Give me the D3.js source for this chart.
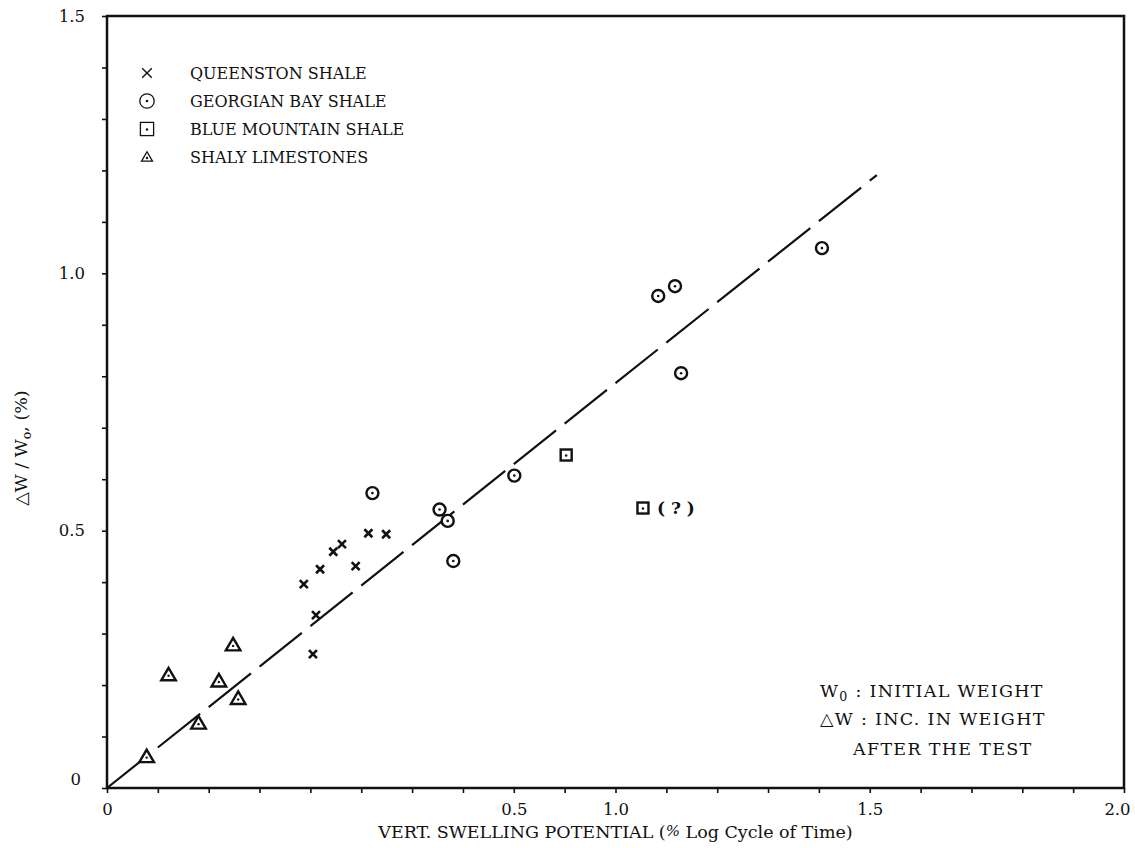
<!DOCTYPE html>
<html>
<head>
<meta charset="utf-8">
<script src="https://cdn.jsdelivr.net/npm/d3@7/dist/d3.min.js"></script>
<style>
  html, body { margin: 0; padding: 0; background: #fff; }
  svg { display: block; }
  text { font-family: "DejaVu Serif", "Liberation Serif", serif; fill: #111; }
</style>
</head>
<body>
<svg id="chart" width="1135" height="848"></svg>
<script>
// Swelling potential (x) vs. relative weight increase (y) per rock group
const queenstonX = [0.387, 0.419, 0.411, 0.405, 0.445, 0.462, 0.489, 0.514, 0.549];
const queenstonY = [0.396, 0.425, 0.336, 0.260, 0.459, 0.474, 0.431, 0.495, 0.493];

const georgianX = [0.522, 0.654, 0.670, 0.681, 0.801, 1.084, 1.117, 1.129, 1.406];
const georgianY = [0.573, 0.541, 0.519, 0.441, 0.607, 0.956, 0.975, 0.806, 1.049];

const blueMtnX = [0.903, 1.054];
const blueMtnY = [0.647, 0.544];
const blueMtnNote = ["", "( ? )"];

const limestoneX = [0.078, 0.121, 0.180, 0.220, 0.248, 0.258];
const limestoneY = [0.061, 0.220, 0.126, 0.208, 0.278, 0.174];

// Fitted trend line end points
const trendX = [0, 1.514];
const trendY = [0, 1.191];

const legendLabels = ["QUEENSTON SHALE", "GEORGIAN BAY SHALE", "BLUE MOUNTAIN SHALE", "SHALY LIMESTONES"];
const legendKinds = ["cross", "circle", "square", "triangle"];

const xTickValues = [0, 0.8, 1.0, 1.5, 2.0];
const xTickLabels = ["0", "0.5", "1.0", "1.5", "2.0"];
const yTickValues = [0, 0.5, 1.0, 1.5];
const yTickLabels = ["0", "0.5", "1.0", "1.5"];

const svg = d3.select("#chart");
const plot = { left: 107, top: 16, right: 1124, bottom: 788 };

const x = d3.scaleLinear().domain([0, 2]).range([plot.left, plot.right]);
const y = d3.scaleLinear().domain([0, 1.5]).range([plot.bottom, plot.top]);

// Minor ticks every 0.1 on both axes, pointing outward
const xMinor = d3.range(0, 21).map(i => i / 10);
const yMinor = d3.range(0, 16).map(i => i / 10);

svg.append("g")
  .attr("transform", `translate(0,${plot.bottom})`)
  .call(d3.axisBottom(x).tickValues(xMinor).tickSize(5).tickFormat(""))
  .call(g => g.select(".domain").remove())
  .call(g => g.selectAll("line").attr("stroke", "#111").attr("stroke-width", 1.6));

svg.append("g")
  .attr("transform", `translate(${plot.left},0)`)
  .call(d3.axisLeft(y).tickValues(yMinor).tickSize(5).tickFormat(""))
  .call(g => g.select(".domain").remove())
  .call(g => g.selectAll("line").attr("stroke", "#111").attr("stroke-width", 1.6));

// Tick labels
const xLab = d3.axisBottom(x).tickValues(xTickValues).tickSize(0).tickPadding(15)
  .tickFormat((d, i) => xTickLabels[i]);
svg.append("g")
  .attr("transform", `translate(0,${plot.bottom})`)
  .call(xLab)
  .call(g => g.select(".domain").remove())
  .call(g => g.selectAll("text").attr("font-size", 16.5).attr("font-family", "Liberation Serif").attr("fill", "#111"))
  .call(g => g.selectAll(".tick").filter(d => d === 2).select("text").attr("dx", -7));

const yLab = d3.axisLeft(y).tickValues(yTickValues).tickSize(0).tickPadding(22)
  .tickFormat((d, i) => yTickLabels[i]);
svg.append("g")
  .attr("transform", `translate(${plot.left},0)`)
  .call(yLab)
  .call(g => g.select(".domain").remove())
  .call(g => g.selectAll("text").attr("font-size", 16.5).attr("font-family", "Liberation Serif").attr("fill", "#111"))
  .call(g => g.selectAll(".tick").filter(d => d === 0).select("text").attr("dx", -4).attr("dy", "-0.2em"));

// Frame
svg.append("rect")
  .attr("x", plot.left).attr("y", plot.top)
  .attr("width", plot.right - plot.left).attr("height", plot.bottom - plot.top)
  .attr("fill", "none").attr("stroke", "#111").attr("stroke-width", 2.5);

// Dashed trend line
svg.append("path")
  .datum(d3.zip(trendX, trendY))
  .attr("d", d3.line().x(d => x(d[0])).y(d => y(d[1])))
  .attr("fill", "none").attr("stroke", "#111").attr("stroke-width", 2.2)
  .attr("stroke-dasharray", "54,11");

// Marker drawing helpers
function drawMarker(g, kind, cx, cy, s) {
  const k = s.scale;
  if (kind === "cross") {
    const h = 4 * k;
    g.append("path")
      .attr("d", `M${cx - h},${cy - h}L${cx + h},${cy + h}M${cx + h},${cy - h}L${cx - h},${cy + h}`)
      .attr("stroke", "#111").attr("stroke-width", s.sw).attr("fill", "none");
  } else if (kind === "circle") {
    g.append("circle").attr("cx", cx).attr("cy", cy).attr("r", 6 * k)
      .attr("fill", "#fff").attr("stroke", "#111").attr("stroke-width", s.sw);
    g.append("circle").attr("cx", cx).attr("cy", cy).attr("r", 1.3).attr("fill", "#111");
  } else if (kind === "square") {
    const h = 5.5 * k;
    g.append("rect").attr("x", cx - h).attr("y", cy - h).attr("width", 2 * h).attr("height", 2 * h)
      .attr("fill", "#fff").attr("stroke", "#111").attr("stroke-width", s.sw);
    g.append("circle").attr("cx", cx).attr("cy", cy + 0.5).attr("r", 1.2).attr("fill", "#111");
  } else if (kind === "triangle") {
    const w = 7.3 * k, hTop = 7 * k, hBot = 5.5 * k;
    g.append("path")
      .attr("d", `M${cx},${cy - hTop}L${cx + w},${cy + hBot}L${cx - w},${cy + hBot}Z`)
      .attr("fill", "#fff").attr("stroke", "#111").attr("stroke-width", s.sw)
      .attr("stroke-linejoin", "miter");
    g.append("circle").attr("cx", cx).attr("cy", cy + 1).attr("r", 1.2).attr("fill", "#111");
  }
}

const plotStyle = { scale: 1, sw: 2.4 };
const markers = svg.append("g");

queenstonX.forEach((v, i) => drawMarker(markers, "cross", x(v), y(queenstonY[i]), { scale: 1, sw: 2.6 }));
georgianX.forEach((v, i) => drawMarker(markers, "circle", x(v), y(georgianY[i]), plotStyle));
limestoneX.forEach((v, i) => drawMarker(markers, "triangle", x(v), y(limestoneY[i]), plotStyle));
blueMtnX.forEach((v, i) => {
  drawMarker(markers, "square", x(v), y(blueMtnY[i]), plotStyle);
  if (blueMtnNote[i]) {
    markers.append("text")
      .attr("x", x(v) + 14).attr("y", y(blueMtnY[i]) + 6)
      .attr("font-size", 17).attr("font-weight", "bold")
      .attr("font-family", "Liberation Sans")
      .attr("xml:space", "preserve")
      .text(blueMtnNote[i]);
  }
});

// Legend
const legend = svg.append("g");
legendLabels.forEach((lab, i) => {
  const ly = 73 + i * 28;
  const kind = legendKinds[i];
  const st = kind === "triangle" ? { scale: 0.75, sw: 1.3 }
           : kind === "cross" ? { scale: 1.2, sw: 1.4 }
           : { scale: 1.2, sw: 1.3 };
  drawMarker(legend, kind, 147, ly, st);
  legend.append("text")
    .attr("x", 190).attr("y", ly + 6)
    .attr("font-size", 16)
    .text(lab);
});

// Definitions note
const note = svg.append("g").attr("font-size", 17.5).attr("letter-spacing", 1.3);
const n1 = note.append("text").attr("x", 820).attr("y", 697);
n1.append("tspan").text("W");
n1.append("tspan").attr("font-size", 12.5).attr("dy", 4).text("0");
n1.append("tspan").attr("dy", -4).text(" : INITIAL WEIGHT");
note.append("text").attr("x", 820).attr("y", 725).text("\u25B3W : INC. IN WEIGHT");
note.append("text").attr("x", 853).attr("y", 755).text("AFTER THE TEST");

// Axis titles
const xt = svg.append("text")
  .attr("x", (x(0) + x(2)) / 2).attr("y", 838)
  .attr("text-anchor", "middle").attr("font-size", 17.5);
xt.append("tspan").text("VERT. SWELLING POTENTIAL (");
xt.append("tspan").attr("font-style", "italic").attr("font-size", 15).attr("dy", -2).text("%");
xt.append("tspan").attr("dy", 2).text(" Log Cycle of Time)");

const yt = svg.append("text")
  .attr("transform", `translate(27,${(y(0) + y(1.5)) / 2 + 46}) rotate(-90)`)
  .attr("text-anchor", "middle").attr("font-size", 17.5);
yt.append("tspan").text("\u25B3W / W");
yt.append("tspan").attr("font-size", 12.5).attr("dy", 4).text("o");
yt.append("tspan").attr("dy", -4).text(", (%)");
</script>
</body>
</html>
